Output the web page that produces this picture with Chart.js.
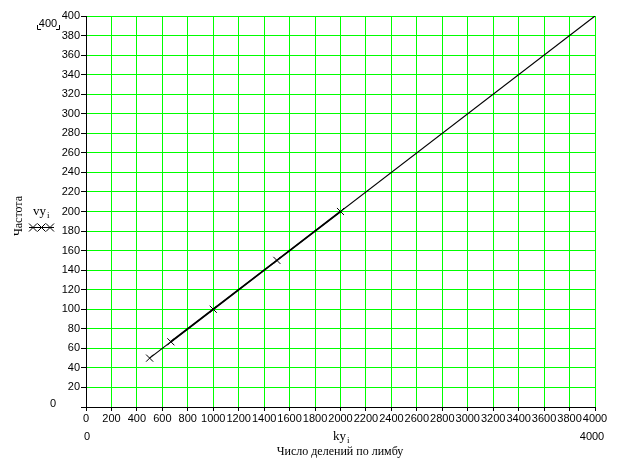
<!DOCTYPE html>
<html>
<head>
<meta charset="utf-8">
<script src="https://cdn.jsdelivr.net/npm/chart.js@4.4.1/dist/chart.umd.min.js"></script>
<style>
  body { margin: 0; background: #fff; }
  canvas { display: block; }
</style>
</head>
<body>
<canvas id="chart" width="624" height="462"></canvas>
<script>
// measured points (число делений, частота)
const kyValues = [500, 667, 1000, 1500, 2000];
const vyValues = [50, 66.7, 100, 150, 200];
// line through the points, extended to the axis limit
const fitX = [500, 4000];
const fitY = [50, 400];

const X_MIN = 0, X_MAX = 4000, X_STEP = 200;
const Y_MIN = 0, Y_MAX = 400, Y_STEP = 20;

const GREEN = 'rgb(0,255,0)';
const sans = 'Liberation Sans, Arial, sans-serif';
const serif = 'Liberation Serif, Times New Roman, serif';

const toPts = (xs, ys) => xs.map((x, i) => ({ x: x, y: ys[i] }));

// extra labels like in the mathcad plot
const extraText = {
  id: 'extraText',
  afterDraw(chart) {
    const c = chart.ctx;
    c.save();
    c.fillStyle = '#000';
    c.strokeStyle = '#000';
    c.lineWidth = 1;

    // top limit in brackets
    c.font = '11px ' + sans;
    c.textAlign = 'center';
    c.textBaseline = 'middle';
    c.fillText(String(Y_MAX), 48, 24);
    c.beginPath();
    c.moveTo(37.5, 25); c.lineTo(37.5, 29.5); c.lineTo(41, 29.5);
    c.moveTo(59.5, 25); c.lineTo(59.5, 29.5); c.lineTo(56, 29.5);
    c.stroke();

    // bottom limit of y, limits of x
    c.fillText(String(Y_MIN), 53, 404);
    c.fillText(String(X_MIN), 87, 437);
    c.fillText(String(X_MAX), 592, 437);

    // x axis name
    c.font = '13px ' + serif;
    c.textAlign = 'right';
    c.fillText('ky', 346, 437);
    c.font = '9px ' + serif;
    c.textAlign = 'left';
    c.fillText('i', 347, 441);
    c.font = '12px ' + serif;
    c.textAlign = 'center';
    c.fillText('Число делений по лимбу', 340, 452);

    // y axis name
    c.save();
    c.translate(19, 216);
    c.rotate(-Math.PI / 2);
    c.fillText('Частота', 0, 0);
    c.restore();

    // trace legend
    c.font = '13px ' + serif;
    c.textAlign = 'right';
    c.fillText('vy', 46, 212);
    c.font = '9px ' + serif;
    c.textAlign = 'left';
    c.fillText('i', 47, 216);
    c.beginPath();
    c.moveTo(29, 227.5); c.lineTo(54, 227.5);
    [33, 41.5, 50].forEach(cx => {
      c.moveTo(cx - 4, 223.5); c.lineTo(cx + 4, 231.5);
      c.moveTo(cx + 4, 223.5); c.lineTo(cx - 4, 231.5);
    });
    c.stroke();
    c.restore();
  }
};

new Chart(document.getElementById('chart'), {
  type: 'scatter',
  data: {
    datasets: [
      {
        label: 'fit',
        data: toPts(fitX, fitY),
        showLine: true,
        borderColor: '#000',
        borderWidth: 1.2,
        pointRadius: 0,
        order: 2
      },
      {
        label: 'vy',
        data: toPts(kyValues, vyValues),
        showLine: true,
        borderColor: '#000',
        borderWidth: 1.8,
        segment: {
          borderColor: ctx => ctx.p0DataIndex === 0 ? 'rgba(0,0,0,0)' : '#000'
        },
        pointStyle: 'crossRot',
        pointRadius: 5,
        pointBorderWidth: 1,
        pointBorderColor: '#000',
        order: 1
      }
    ]
  },
  options: {
    responsive: false,
    animation: false,
    layout: { padding: { left: 0, right: 29, top: 16, bottom: 0 } },
    plugins: {
      legend: { display: false },
      tooltip: { enabled: false }
    },
    scales: {
      x: {
        type: 'linear',
        min: X_MIN,
        max: X_MAX,
        afterFit: s => { s.height = 55; },
        ticks: {
          stepSize: X_STEP,
          autoSkip: false,
          maxRotation: 0,
          minRotation: 0,
          padding: 1,
          color: '#000',
          font: { family: sans, size: 11 },
          callback: v => String(v)
        },
        grid: { color: GREEN, tickColor: '#000', tickLength: 4, lineWidth: 1 },
        border: { color: '#000', width: 1 }
      },
      y: {
        min: Y_MIN,
        max: Y_MAX,
        afterFit: s => { s.width = 86; },
        ticks: {
          stepSize: Y_STEP,
          padding: 1,
          color: '#000',
          font: { family: sans, size: 11 },
          callback: v => v === Y_MIN ? '' : String(v)
        },
        grid: { color: GREEN, tickColor: '#000', tickLength: 5, lineWidth: 1 },
        border: { color: '#000', width: 1 }
      }
    }
  },
  plugins: [extraText]
});
</script>
</body>
</html>
